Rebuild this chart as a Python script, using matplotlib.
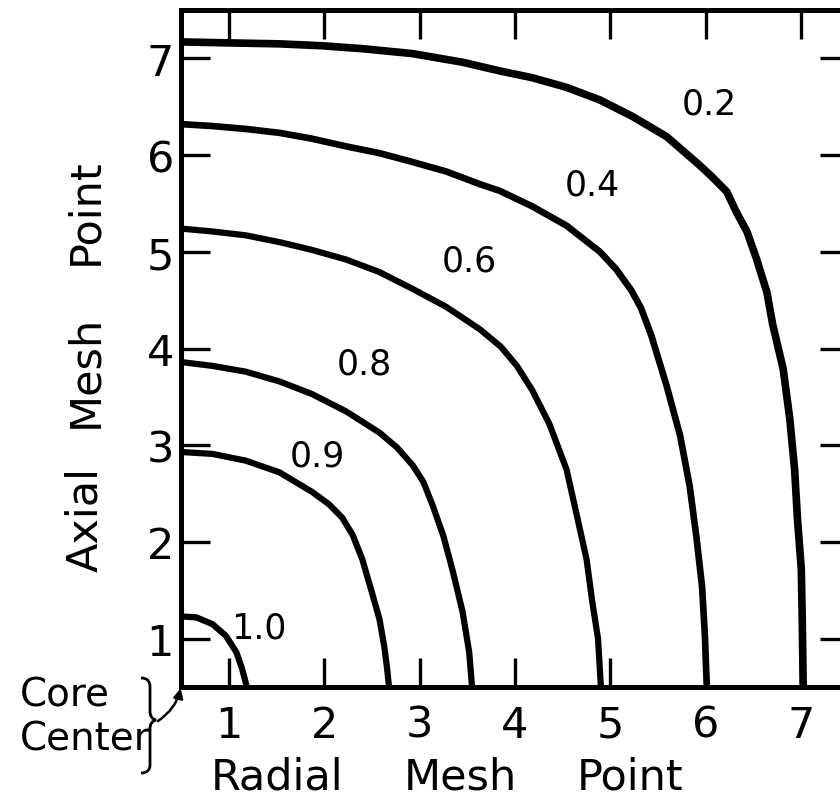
import matplotlib
matplotlib.use("Agg")
import matplotlib.pyplot as plt
from matplotlib.path import Path
from matplotlib.patches import PathPatch

# contour lines (radial, axial mesh point)
levels = ["0.2", "0.4", "0.6", "0.8", "0.9", "1.0"]

x_02 = [0.5, 1.00, 1.53, 1.98, 2.40, 2.92, 3.45, 3.84, 4.18, 4.54, 4.89, 5.23, 5.59, 5.94, 6.07,
        6.22, 6.32, 6.43, 6.53, 6.64, 6.70, 6.81, 6.88, 6.93, 6.96, 7.00, 7.01, 7.02]
y_02 = [7.17, 7.16, 7.15, 7.13, 7.10, 7.05, 6.96, 6.87, 6.80, 6.70, 6.57, 6.40, 6.19, 5.89, 5.77,
        5.62, 5.41, 5.21, 4.93, 4.58, 4.25, 3.79, 3.27, 2.75, 2.24, 1.72, 1.20, 0.5]

x_04 = [0.5, 0.83, 1.18, 1.53, 1.87, 2.23, 2.58, 2.92, 3.28, 3.63, 3.84, 4.18, 4.54, 4.89, 5.06,
        5.22, 5.32, 5.43, 5.59, 5.73, 5.83, 5.90, 5.96, 5.99, 6.01]
y_04 = [6.32, 6.30, 6.27, 6.23, 6.17, 6.09, 6.02, 5.93, 5.83, 5.70, 5.63, 5.47, 5.27, 5.00, 4.82,
        4.60, 4.42, 4.13, 3.61, 3.10, 2.58, 2.06, 1.54, 1.03, 0.5]

x_06 = [0.5, 0.83, 1.18, 1.53, 1.87, 2.23, 2.58, 2.92, 3.28, 3.63, 3.85, 4.02, 4.18, 4.36, 4.54,
        4.64, 4.75, 4.81, 4.87, 4.90]
y_06 = [5.24, 5.21, 5.17, 5.10, 5.02, 4.92, 4.79, 4.62, 4.43, 4.20, 4.02, 3.82, 3.57, 3.22, 2.75,
        2.31, 1.82, 1.38, 1.00, 0.5]

x_08 = [0.5, 0.83, 1.18, 1.53, 1.87, 2.23, 2.58, 2.76, 2.93, 3.04, 3.14, 3.25, 3.35, 3.45, 3.52, 3.55]
y_08 = [3.86, 3.82, 3.76, 3.66, 3.53, 3.35, 3.13, 2.98, 2.79, 2.62, 2.37, 2.06, 1.69, 1.28, 0.86, 0.5]

x_09 = [0.5, 0.83, 1.18, 1.53, 1.87, 2.05, 2.19, 2.30, 2.40, 2.50, 2.58, 2.63, 2.66, 2.68]
y_09 = [2.93, 2.91, 2.84, 2.72, 2.52, 2.39, 2.25, 2.07, 1.82, 1.48, 1.20, 0.92, 0.69, 0.5]

x_10 = [0.5, 0.66, 0.83, 0.97, 1.08, 1.14, 1.19]
y_10 = [1.23, 1.22, 1.15, 1.03, 0.86, 0.69, 0.5]

label_x = [6.04, 4.81, 3.52, 2.42, 1.93, 1.32]
label_y = [6.53, 5.70, 4.91, 3.84, 2.89, 1.12]

ticks = [1, 2, 3, 4, 5, 6, 7]

W, H = 840, 803
fig = plt.figure(figsize=(W / 100, H / 100), dpi=100)
ax = fig.add_axes([181 / W, (H - 688) / H, 668 / W, 677 / H])

curves = [(x_02, y_02), (x_04, y_04), (x_06, y_06), (x_08, y_08), (x_09, y_09), (x_10, y_10)]
widths = [5.5, 4.8, 4.5, 4.5, 4.5, 4.5]
for (xs, ys), lw in zip(curves, widths):
    ax.plot(xs, ys, color="black", lw=lw, solid_capstyle="butt", solid_joinstyle="round")

for lab, lx, ly in zip(levels, label_x, label_y):
    ax.text(lx, ly, lab, fontsize=25, ha="center", va="center")

ax.set_xlim(0.5, 7.5)
ax.set_ylim(0.5, 7.5)
ax.set_xticks(ticks)
ax.set_yticks(ticks)
ax.tick_params(direction="in", length=21, width=2.4, top=True, right=True, labelsize=31)
ax.tick_params(axis="x", pad=12)
ax.tick_params(axis="y", pad=5)
for sp in ax.spines.values():
    sp.set_linewidth(3.6)

# axis titles, one word at a time to keep the wide word spacing
for word, py in zip(["Point", "Mesh", "Axial"], [212, 371, 520]):
    fig.text(85 / W, 1 - py / H, word, rotation=90, fontsize=31, ha="center", va="center")
for word, px in zip(["Radial", "Mesh", "Point"], [277, 460, 630]):
    fig.text(px / W, 1 - 778 / H, word, fontsize=31, ha="center", va="center")

fig.text(20 / W, 1 - 707 / H, "Core", fontsize=28, ha="left", va="baseline")
fig.text(20 / W, 1 - 751 / H, "Center", fontsize=28, ha="left", va="baseline")

# brace next to the "Core Center" note
pts = [(141, 679), (147, 679), (150, 682), (150, 688), (150, 712),
       (150, 717), (152, 720), (156, 721), (152, 722), (150, 725), (150, 730),
       (150, 766), (150, 771), (147, 774), (141, 774)]
codes = [Path.MOVETO, Path.CURVE4, Path.CURVE4, Path.CURVE4, Path.LINETO,
         Path.CURVE4, Path.CURVE4, Path.CURVE4, Path.CURVE4, Path.CURVE4, Path.CURVE4,
         Path.LINETO, Path.CURVE4, Path.CURVE4, Path.CURVE4]
brace = Path([(px / W, 1 - py / H) for px, py in pts], codes)
fig.add_artist(PathPatch(brace, transform=fig.transFigure, fill=False, lw=2.0, color="black"))

ax.annotate("", xy=(0.5, 0.5), xycoords="data",
            xytext=(158 / W, 1 - 722 / H), textcoords="figure fraction",
            annotation_clip=False,
            arrowprops=dict(arrowstyle="-|>", lw=1.8, color="black", mutation_scale=14,
                            shrinkA=0, shrinkB=1, connectionstyle="arc3,rad=0.2"))

fig.savefig("out.png", dpi=100)
